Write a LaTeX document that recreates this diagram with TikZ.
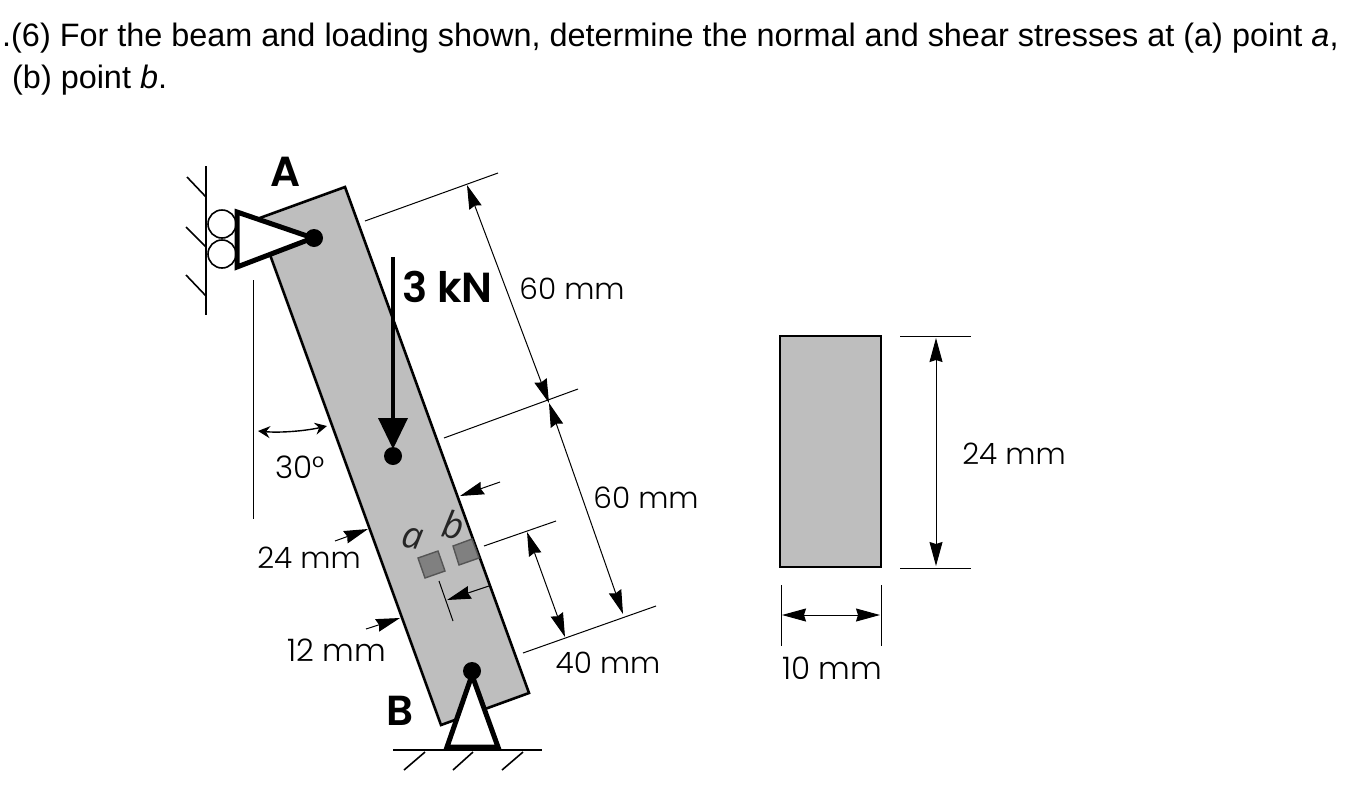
\documentclass[tikz,border=0pt]{standalone}
\usepackage{fontspec}
\setmainfont{Liberation Sans}
\newfontfamily\lab{Poppins Light}
\newfontfamily\labb{Poppins}[UprightFont=*-SemiBold]
\newfontfamily\labi{Open Sans}[ItalicFont=* Italic]
\usetikzlibrary{arrows.meta}
\definecolor{beamgray}{HTML}{BEBEBE}
\definecolor{markgray}{HTML}{808080}
\definecolor{markedge}{HTML}{555555}
\tikzset{
  thin line/.style={line width=1pt,black},
  dimline/.style={line width=1pt,black,{Stealth[length=24pt,width=13pt,inset=2pt]}-{Stealth[length=24pt,width=13pt,inset=2pt]}},
  leader/.style={line width=1pt,black,-{Stealth[length=24pt,width=13pt,inset=2pt]}},
  solid part/.style={draw=black,fill=beamgray,line width=2.6pt,line join=miter},
  support/.style={draw=black,fill=white,line width=5pt,line join=miter},
  pin/.style={circle,fill=black,inner sep=0pt,minimum size=18pt},
  roller/.style={circle,draw=black,fill=white,line width=1.6pt,inner sep=0pt,minimum size=28pt},
  groundline/.style={line width=2pt,black},
  hatchline/.style={line width=1.6pt,black},
  strain mark/.style={draw=markedge,fill=markgray,line width=1.4pt},
  label/.style={font=\lab\fontsize{29.5}{29.5}\selectfont,inner sep=0pt,text=black},
  narrowlabel/.style={font=\lab\fontsize{31}{31}\selectfont,inner sep=0pt,text=black},
  boldlabel/.style={font=\labb\fontsize{42}{42}\selectfont,inner sep=0pt},
  ptlabel/.style={font=\labi\itshape\fontsize{37}{37}\selectfont,inner sep=0pt,text=black!85,rotate=-10},
  question/.style={font=\fontsize{32.4}{32.4}\selectfont,inner sep=0pt,anchor=base west}
}
\begin{document}
\begin{tikzpicture}[x=1pt,y=-1pt]
\useasboundingbox (0,0) rectangle (1364,806);
% question
\node[question] (q1) at (2,46) {.(6) For the beam and loading shown, determine the normal and shear stresses at (a) point \textit{a},};
\node[question] (q2) at (12,88) {(b) point \textit{b}.};
% beam
\draw[solid part] (257,219) -- (345,187) -- (529,693) -- (441,725) -- cycle;
% strain marks
\draw[strain mark] (418,558) -- (438,551) -- (445,571) -- (425,578) -- cycle;
\draw[strain mark] (453,546) -- (472,539) -- (479,558) -- (459,565) -- cycle;
\node[ptlabel] (a) at (413,539) {a};
\node[ptlabel] (b) at (453,525) {b};
% left support
\coordinate (wallT) at (206,166); \coordinate (wallB) at (206,315);
\draw[groundline] (wallT) -- (wallB);
\foreach \xa/\ya/\xb/\yb in {187/177/206/197,186/227/206/247,186/275/206/296}
  \draw[hatchline] (\xa,\ya) -- (\xb,\yb);
\node[roller] (r1) at (222,224) {};
\node[roller] (r2) at (222,254) {};
\draw[support] (237,212) -- (313,238) -- (237,267) -- cycle;
\node[pin] (pinA) at (314,238) {};
\node[boldlabel] (A) at (286,172) {A};
% bottom support
\draw[groundline] (393,750) -- (542,750);
\foreach \xa/\xb in {425/404,473/453,523/502}
  \draw[hatchline] (\xa,752) -- (\xb,770);
\draw[support] (472,675) -- (498,747) -- (447,747) -- cycle;
\node[pin] (pinB) at (472,671) {};
\node[boldlabel] (B) at (400,711) {B};
% load
\node[pin] (load) at (393,456) {};
\coordinate (loadT) at (393,257);
\coordinate (loadH) at (393,418);
\draw[line width=4.5pt] (loadT) -- (loadH);
\fill (378,418) -- (408,418) -- (393,449) -- cycle;
\node[boldlabel,anchor=west] (kN) at (402,287) {3 kN};
% angle
\coordinate (vT) at (253.5,280); \coordinate (vB) at (253.5,519);
\draw[thin line] (vT) -- (vB);
\coordinate (angL) at (258,431); \coordinate (angR) at (327,426);
\draw[line width=1.4pt,{Stealth[length=12pt,width=12pt,inset=4pt]}-{Stealth[length=12pt,width=12pt,inset=4pt]}] (angL) .. controls (280,433) and (305,431) .. (angR);
\node[narrowlabel] (ang) at (300,467) {30°};
% extension lines
\coordinate (e1a) at (365,221); \coordinate (e1b) at (498,173);
\coordinate (e2a) at (444,438); \coordinate (e2b) at (578,389);
\coordinate (e3a) at (523,653); \coordinate (e3b) at (656,606);
\coordinate (e4a) at (484,546); \coordinate (e4b) at (556,521);
\draw[thin line] (e1a) -- (e1b);
\draw[thin line] (e2a) -- (e2b);
\draw[thin line] (e3a) -- (e3b);
\draw[thin line] (e4a) -- (e4b);
% dimensions along beam
\coordinate (d1) at (467,185); \coordinate (d2) at (549,403); \coordinate (d3) at (623,614);
\coordinate (d4) at (527,532); \coordinate (d5) at (565,637);
\draw[dimline] (d1) -- (d2);
\draw[dimline] (d2) -- (d3);
\draw[dimline] (d4) -- (d5);
% leaders
\coordinate (l1a) at (500,482); \coordinate (l1b) at (460,496);
\coordinate (l2a) at (335,541); \coordinate (l2b) at (368,529);
\coordinate (l3a) at (366,629); \coordinate (l3b) at (400,618);
\coordinate (l4a) at (489,586); \coordinate (l4b) at (447,600);
\coordinate (t1) at (439,581); \coordinate (t2) at (453,621);
\draw[leader] (l1a) -- (l1b);
\draw[leader] (l2a) -- (l2b);
\draw[leader] (l3a) -- (l3b);
\draw[leader] (l4a) -- (l4b);
\draw[thin line] (t1) -- (t2);
% labels on the beam
\node[label] (la) at (572,289) {60 mm};
\node[label] (lb) at (646,498) {60 mm};
\node[label] (lc) at (309,558) {24 mm};
\node[narrowlabel] (ld) at (337,650) {12 mm};
\node[label] (le) at (608,663) {40 mm};
% section
\draw[solid part] (780,336) rectangle (881,567);
\coordinate (s1) at (900,336); \coordinate (s2) at (971,336);
\coordinate (s3) at (900,568); \coordinate (s4) at (971,568);
\coordinate (s5) at (781,585); \coordinate (s6) at (781,646);
\coordinate (s7) at (881,585); \coordinate (s8) at (881,646);
\draw[thin line] (s1) -- (s2);
\draw[thin line] (s3) -- (s4);
\draw[thin line] (s5) -- (s6);
\draw[thin line] (s7) -- (s8);
\coordinate (h1) at (936,338); \coordinate (h2) at (936,566);
\coordinate (w1) at (782,615); \coordinate (w2) at (880,615);
\draw[dimline] (h1) -- (h2);
\draw[dimline] (w1) -- (w2);
\node[label] (lf) at (1014,454) {24 mm};
\node[narrowlabel] (lg) at (832,668) {10 mm};
\end{tikzpicture}
\end{document}
